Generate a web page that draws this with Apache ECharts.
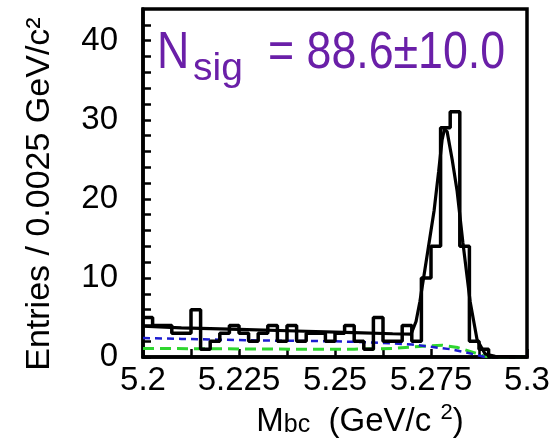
<!DOCTYPE html>
<html>
<head>
<meta charset="utf-8">
<script src="https://cdn.jsdelivr.net/npm/echarts@6/dist/echarts.min.js"></script>
<style>
html,body{margin:0;padding:0;background:#fff;}
#chart{width:557px;height:443px;}
</style>
</head>
<body>
<div id="chart"></div>
<script>
// ---- data ----
var massMin = 5.2;
var binWidth = 0.0025;
var binCounts = [5,4,4,3,3,6,1,2,3,4, 3,2,3,4,2,4,2,3,3,2, 3,4,2,1,5,2,2,4,2,10, 14,29,31,14,2,1,0,0,0,0];

var fitMass   = [5.2, 5.21, 5.225, 5.24, 5.255, 5.265, 5.2698, 5.2711, 5.2721, 5.2742, 5.2758, 5.2770, 5.2779, 5.2785, 5.2792, 5.2805, 5.2818, 5.2833, 5.2852, 5.2870, 5.2891, 5.2917, 5.3];
var fitValues = [3.9, 3.7, 3.5, 3.3, 3.1, 2.95, 2.9, 4.5, 7.0, 13.5, 18.5, 23.5, 27.5, 28.8, 28.5, 25, 21, 14.5, 7, 2.2, 0.4, 0.1, 0];

var blueMass   = [5.2, 5.21, 5.22, 5.23, 5.24, 5.25, 5.26, 5.27, 5.275, 5.28, 5.284, 5.287, 5.289, 5.3];
var blueValues = [2.4, 2.3, 2.2, 2.1, 2.05, 2.0, 1.85, 1.6, 1.3, 1.0, 0.6, 0.25, 0.02, 0];

var greenMass   = [5.2, 5.22, 5.24, 5.255, 5.265, 5.272, 5.278, 5.282, 5.286, 5.289, 5.291, 5.3];
var greenValues = [1.1, 1.05, 1.0, 1.0, 1.1, 1.35, 1.5, 1.2, 0.6, 0.1, 0, 0];

var xTickValues = [5.2, 5.225, 5.25, 5.275, 5.3];
var xTickLabels = ['5.2', '5.225', '5.25', '5.275', '5.3'];
var yTickValues = [0, 10, 20, 30, 40];
var yTickLabels = ['0', '10', '20', '30', '40'];

var annotationMain = 'N';
var annotationSub = 'sig';
var annotationRest = '= 88.6\u00b110.0';

// ---- build series data ----
function zip(a, b) { var r = []; for (var i = 0; i < a.length; i++) r.push([a[i], b[i]]); return r; }
var histData = [];
for (var i = 0; i < binCounts.length; i++) histData.push([massMin + i * binWidth, binCounts[i]]);
histData.push([massMin + binCounts.length * binWidth, binCounts[binCounts.length - 1]]);

var FONT = '"Liberation Sans", Arial, sans-serif';
var purple = '#6a1fa8';

function lookupLabel(v, vals, labels) {
  for (var i = 0; i < vals.length; i++) if (Math.abs(vals[i] - v) < 1e-7) return labels[i];
  return '';
}

var chart = echarts.init(document.getElementById('chart'), null, {renderer: 'canvas'});
chart.setOption({
  backgroundColor: '#fff',
  animation: false,
  grid: {left: 143, right: 30, top: 9, bottom: 73, show: true, borderColor: '#000', borderWidth: 3.5, backgroundColor: 'transparent'},
  xAxis: {
    type: 'value', min: 5.2, max: 5.3, interval: 0.0125,
    axisLine: {show: true, lineStyle: {color: '#000', width: 3.5}},
    axisTick: {show: true, inside: true, length: 8, lineStyle: {color: '#000', width: 2.5}},
    splitLine: {show: false},
    axisLabel: {
      color: '#000', fontFamily: FONT, fontSize: 33, margin: 7,
      showMinLabel: true, showMaxLabel: true,
      formatter: function (v) { return lookupLabel(v, xTickValues, xTickLabels); }
    },
    name: '{m|M}{s|bc}{m|  (GeV/c }{p|2}{m|)}',
    nameLocation: 'middle', nameGap: 34,
    nameTextStyle: {
      color: '#000', fontFamily: FONT, padding: [0, 0, 0, 50],
      rich: {
        m: {fontSize: 33, fontFamily: FONT, color: '#000', lineHeight: 36, verticalAlign: 'bottom'},
        s: {fontSize: 25, fontFamily: FONT, color: '#000', lineHeight: 27, verticalAlign: 'bottom'},
        p: {fontSize: 22, fontFamily: FONT, color: '#000', lineHeight: 24, verticalAlign: 'top'}
      }
    }
  },
  yAxis: {
    type: 'value', min: 0, max: 44, interval: 2,
    axisLine: {show: true, lineStyle: {color: '#000', width: 3.5}},
    axisTick: {show: true, inside: true, length: 8, lineStyle: {color: '#000', width: 2.5}},
    splitLine: {show: false},
    axisLabel: {
      color: '#000', fontFamily: FONT, fontSize: 33, margin: 25,
      showMaxLabel: false,
      formatter: function (v) { return lookupLabel(v, yTickValues, yTickLabels); }
    },
    name: 'Entries / 0.0025 GeV/c\u00b2',
    nameLocation: 'middle', nameGap: 86, nameRotate: 90,
    nameTextStyle: {color: '#000', fontFamily: FONT, fontSize: 34, padding: [0, 22, 0, 0]}
  },
  series: [
    {type: 'line', name: 'bkg2', data: zip(greenMass, greenValues), showSymbol: false, symbol: 'none',
     lineStyle: {color: '#2fd62f', width: 3, type: [11, 6]}, z: 2},
    {type: 'line', name: 'bkg', data: zip(blueMass, blueValues), showSymbol: false, symbol: 'none',
     lineStyle: {color: '#1c1cd0', width: 2.5, type: [7, 5]}, z: 3},
    {type: 'line', name: 'fit', data: zip(fitMass, fitValues), showSymbol: false, symbol: 'none',
     lineStyle: {color: '#000', width: 3.2}, z: 4},
    {type: 'line', name: 'data', data: histData, step: 'end', showSymbol: false, symbol: 'none',
     lineStyle: {color: '#000', width: 3.5}, z: 5}
  ],
  graphic: [
    {type: 'text', x: 157, y: 54, scaleX: 0.86, style: {text: annotationMain, fontSize: 52, fontFamily: FONT, fill: purple, align: 'left', verticalAlign: 'middle'}},
    {type: 'text', x: 193, y: 69, style: {text: annotationSub, fontSize: 39, fontFamily: FONT, fill: purple, align: 'left', verticalAlign: 'middle'}},
    {type: 'text', x: 268, y: 54, scaleX: 0.86, style: {text: annotationRest, fontSize: 52, fontFamily: FONT, fill: purple, align: 'left', verticalAlign: 'middle'}}
  ]
});
</script>
</body>
</html>
